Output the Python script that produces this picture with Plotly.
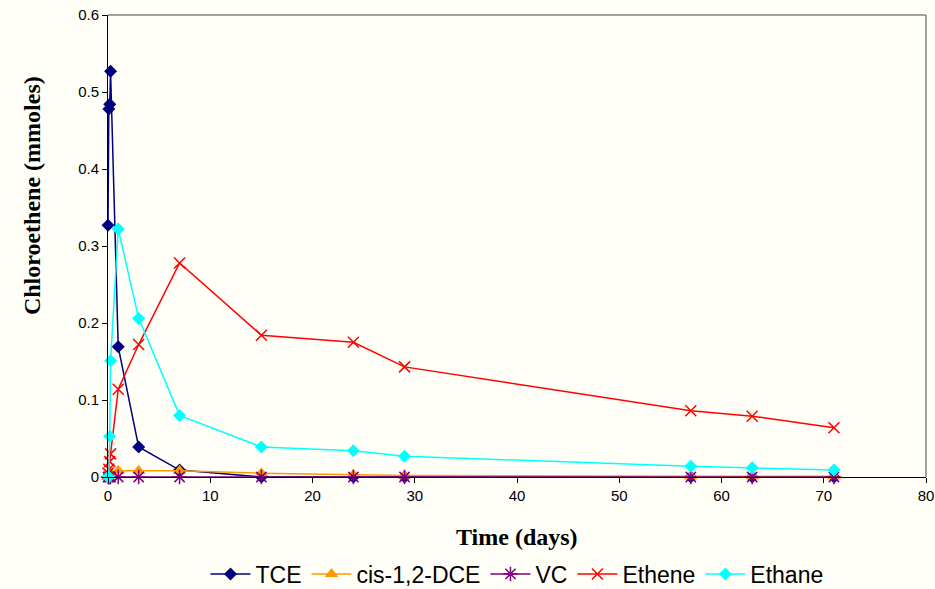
import plotly.graph_objects as go

# Sampling times (days)
time_days = [0, 0.08, 0.17, 0.25, 1, 3, 7, 15, 24, 29, 57, 63, 71]

# Amounts in mmoles
tce = [0.327, 0.478, 0.484, 0.527, 0.169, 0.039, 0.009, 0.0, 0.0, 0.0, 0.0, 0.0, 0.0]
cis_dce = [0.0, 0.002, 0.004, 0.006, 0.008, 0.008, 0.008, 0.005, 0.003, 0.002, 0.001, 0.001, 0.001]
vc = [0.0, 0.0, 0.0, 0.0, 0.0, 0.0, 0.0, 0.0, 0.0, 0.0, 0.0, 0.0, 0.0]
ethene = [0.005, 0.010, 0.020, 0.030, 0.114, 0.172, 0.278, 0.184, 0.175, 0.143, 0.086, 0.079, 0.064]
ethane = [0.0, 0.0, 0.053, 0.151, 0.322, 0.206, 0.080, 0.039, 0.034, 0.027, 0.014, 0.012, 0.009]

y_ticks = [0, 0.1, 0.2, 0.3, 0.4, 0.5, 0.6]
y_tick_text = ["0", "0.1", "0.2", "0.3", "0.4", "0.5", "0.6"]
x_ticks = [0, 10, 20, 30, 40, 50, 60, 70, 80]

series = [
    ("TCE", tce, "#000080", "diamond", 10, None),
    ("cis-1,2-DCE", cis_dce, "#FF9900", "triangle-up", 12, None),
    ("VC", vc, "#800080", "asterisk-open", 12, 1.5),
    ("Ethene", ethene, "#FF0000", "x-thin-open", 11, 1.5),
    ("Ethane", ethane, "#00FFFF", "diamond", 10, None),
]

fig = go.Figure()
for name, vals, color, symbol, size, mlw in series:
    marker = dict(color=color, symbol=symbol, size=size)
    if mlw:
        marker["line"] = dict(color=color, width=mlw)
    else:
        marker["line"] = dict(width=0)
    fig.add_trace(go.Scatter(
        x=time_days, y=vals, name=name, mode="lines+markers",
        line=dict(color=color, width=1.5), marker=marker,
        cliponaxis=False,
    ))

bg = "#FFFFF8"
title_font = dict(family="Liberation Serif, Times New Roman, serif", size=24, color="black")
fig.update_layout(
    width=935, height=589,
    margin=dict(l=108, r=9, t=15, b=112, autoexpand=False),
    paper_bgcolor=bg, plot_bgcolor=bg,
    font=dict(family="Liberation Sans, Arial, sans-serif", size=15, color="black"),
    showlegend=True,
    legend=dict(
        orientation="h", x=0.5, xanchor="center",
        yref="container", y=0.0255, yanchor="middle",
        font=dict(family="Liberation Sans, Arial, sans-serif", size=23),
        bgcolor="rgba(0,0,0,0)", itemwidth=40, tracegroupgap=0,
    ),
    xaxis=dict(
        range=[0, 80], tickvals=x_ticks, ticks="outside", ticklen=5,
        tickcolor="black", showline=True, linecolor="black", linewidth=1,
        showgrid=False, zeroline=False, mirror=False,
    ),
    yaxis=dict(
        range=[0, 0.6], tickvals=y_ticks, ticktext=y_tick_text, ticks="outside",
        ticklen=5, tickcolor="black", showline=True, linecolor="black", linewidth=1,
        showgrid=False, zeroline=False,
    ),
    annotations=[
        dict(text="<b>Time (days)</b>", xref="paper", yref="paper",
             x=0.5, y=-0.13, xanchor="center", yanchor="middle",
             showarrow=False, font=title_font),
        dict(text="<b>Chloroethene (mmoles)</b>", xref="paper", yref="paper",
             x=-0.093, y=0.61, xanchor="center", yanchor="middle", textangle=-90,
             showarrow=False, font=title_font),
    ],
    shapes=[
        dict(type="line", xref="paper", yref="paper", x0=0, x1=1, y0=1, y1=1,
             line=dict(color="#808080", width=1.5)),
        dict(type="line", xref="paper", yref="paper", x0=1, x1=1, y0=0, y1=1,
             line=dict(color="#808080", width=1.5)),
    ],
)

fig.write_html("out.html")
